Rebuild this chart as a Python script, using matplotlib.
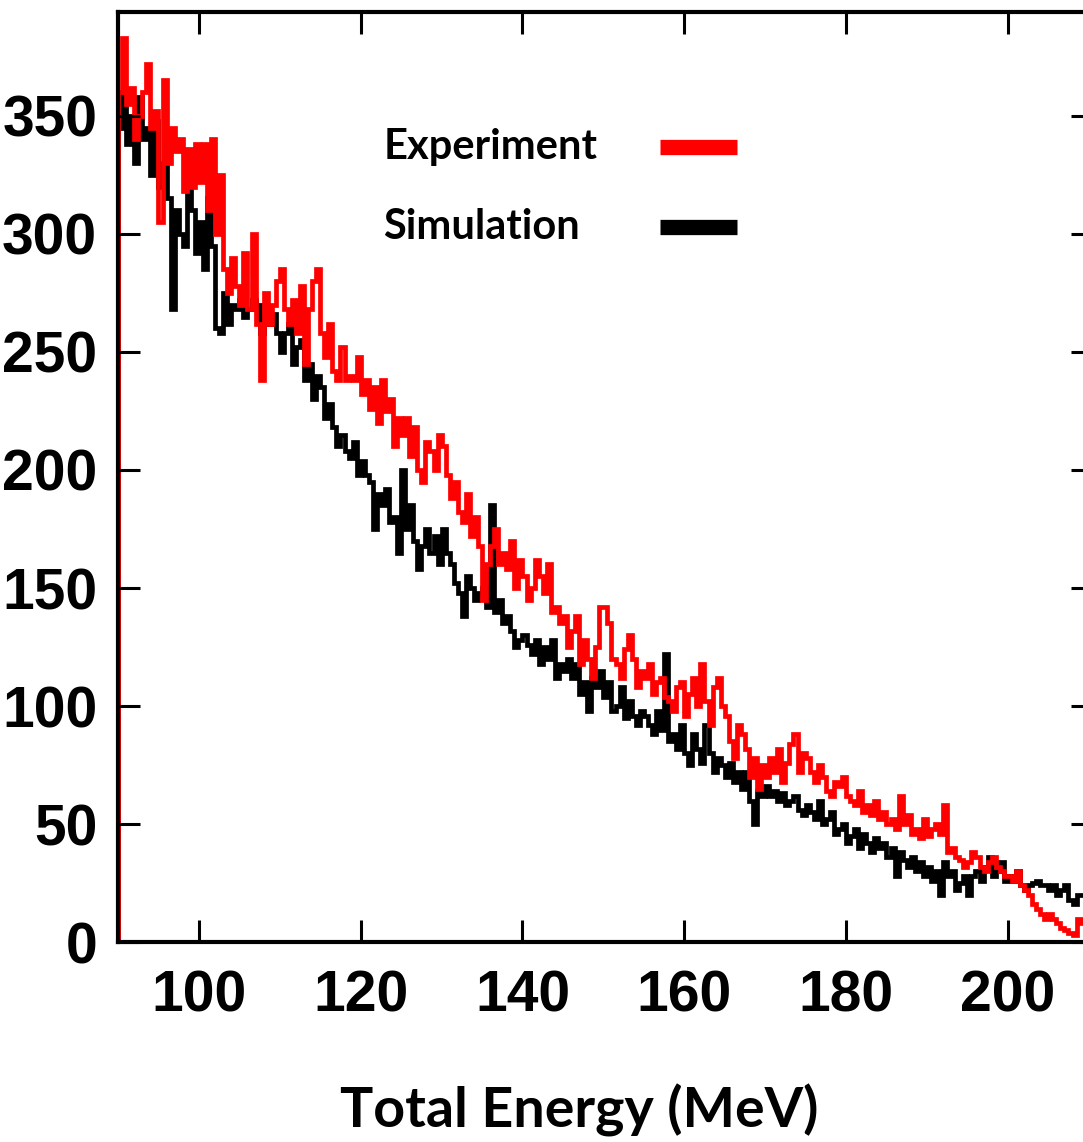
import numpy as np
import matplotlib
matplotlib.use("Agg")
from matplotlib import pyplot as plt

# energy bins, 0.5 MeV wide, 90 -> 210.5 MeV
bin_width = 0.5
e_start = 90.0

# Experiment (red), counts per bin
experiment = [
    360, 383, 355, 362, 340, 350, 360, 372, 345, 352,
    305, 365, 330, 345, 335, 340, 318, 336, 320, 338,
    322, 338, 310, 340, 300, 325, 285, 275, 290, 278,
    270, 292, 268, 300, 262, 238, 275, 262, 270, 280,
    285, 268, 262, 272, 258, 278, 245, 268, 280, 285,
    258, 248, 262, 242, 238, 252, 238, 240, 238, 248,
    232, 238, 226, 235, 220, 238, 225, 230, 210, 222,
    215, 222, 206, 218, 200, 195, 212, 208, 200, 215,
    210, 198, 188, 195, 182, 178, 190, 172, 180, 168,
    145, 160, 168, 175, 160, 165, 158, 170, 150, 162,
    155, 145, 150, 162, 155, 148, 160, 140, 142, 135,
    138, 125, 132, 138, 118, 128, 120, 112, 125, 142,
    142, 135, 120, 118, 112, 124, 130, 120, 108, 115,
    112, 118, 105, 110, 112, 104, 102, 98, 108, 110,
    96, 105, 112, 100, 118, 102, 92, 108, 112, 100,
    96, 85, 78, 92, 88, 82, 70, 78, 65, 75,
    70, 78, 72, 82, 68, 76, 84, 88, 72, 80,
    78, 72, 68, 75, 70, 64, 62, 68, 66, 70,
    62, 60, 58, 64, 55, 58, 54, 60, 52, 55,
    50, 52, 48, 62, 50, 54, 46, 48, 44, 52,
    45, 48, 50, 46, 58, 38, 40, 36, 35, 32,
    34, 38, 36, 32, 30, 34, 36, 32, 30, 28,
    28, 26, 30, 24, 22, 20, 16, 14, 12, 10,
    12, 10, 8, 6, 5, 4, 3, 10, 8, 12, 10,
]

# Simulation (black), counts per bin
simulation = [
    345, 360, 338, 350, 330, 358, 340, 345, 325, 348,
    320, 330, 315, 268, 310, 300, 295, 322, 310, 292,
    305, 285, 315, 295, 260, 258, 275, 262, 270, 268,
    272, 265, 268, 272, 270, 258, 265, 262, 266, 258,
    250, 258, 262, 245, 252, 255, 238, 245, 230, 240,
    235, 222, 228, 218, 210, 215, 208, 205, 212, 198,
    204, 198, 195, 175, 190, 185, 192, 178, 180, 165,
    200, 175, 185, 170, 158, 168, 175, 165, 172, 160,
    175, 165, 160, 152, 148, 138, 155, 150, 145, 148,
    150, 142, 185, 140, 145, 135, 138, 132, 125, 128,
    130, 126, 122, 128, 118, 125, 120, 128, 112, 118,
    115, 120, 112, 118, 105, 110, 98, 112, 108, 115,
    104, 110, 98, 100, 108, 95, 102, 96, 92, 98,
    96, 92, 88, 98, 90, 122, 85, 88, 82, 92,
    80, 75, 88, 82, 76, 92, 80, 72, 78, 75,
    70, 76, 68, 72, 65, 72, 60, 50, 64, 62,
    66, 62, 64, 60, 63, 58, 60, 62, 56, 54,
    58, 55, 52, 60, 50, 52, 55, 46, 48, 50,
    42, 45, 48, 40, 46, 42, 38, 44, 40, 42,
    36, 40, 28, 38, 35, 32, 36, 30, 34, 28,
    32, 26, 30, 20, 34, 28, 30, 22, 25, 28,
    20, 28, 30, 26, 32, 36, 28, 30, 34, 26,
    28, 26, 30, 24, 22, 24, 25, 26, 24, 24,
    22, 24, 20, 22, 24, 18, 16, 20, 20, 22, 18,
]

x_ticks = [100, 120, 140, 160, 180, 200]
y_ticks = [0, 50, 100, 150, 200, 250, 300, 350]

num_font = ['Liberation Sans', 'DejaVu Sans']
txt_font = ['Lato', 'DejaVu Sans']

# one empty bin in front so the step starts from zero at 90 MeV
exp_vals = np.array([0] + experiment)
sim_vals = np.array([0] + simulation)
edges = e_start - bin_width + bin_width * np.arange(len(exp_vals) + 1)

fig = plt.figure(figsize=(10.83, 11.42), dpi=100)
ax = fig.add_axes([0.109, 0.175, 0.9, 0.8145])

ax.stairs(sim_vals, edges, baseline=None, color='black', linewidth=3.4)
ax.stairs(exp_vals, edges, baseline=None, color='#ff0000', linewidth=3.4)

ax.set_xlim(90, 210.5)
ax.set_ylim(0, 394)
ax.set_xticks(x_ticks)
ax.set_yticks(y_ticks)

for s in ax.spines.values():
    s.set_linewidth(3)
ax.tick_params(direction='in', length=16, width=2.2, top=True, right=True)
ax.tick_params(axis='x', pad=20)
ax.tick_params(axis='y', pad=15)
for lbl in ax.get_xticklabels() + ax.get_yticklabels():
    lbl.set_family(num_font)
    lbl.set_fontweight('bold')
    lbl.set_fontsize(41)

# legend drawn by hand, gnuplot style
ax.text(0.272, 0.855, 'Experiment', transform=ax.transAxes, family=txt_font,
        fontweight='bold', fontsize=30, va='center', ha='left')
ax.text(0.272, 0.769, 'Simulation', transform=ax.transAxes, family=txt_font,
        fontweight='bold', fontsize=30, va='center', ha='left')
ax.plot([0.556, 0.635], [0.855, 0.855], transform=ax.transAxes,
        color='#ff0000', linewidth=11, solid_capstyle='butt')
ax.plot([0.556, 0.635], [0.769, 0.769], transform=ax.transAxes,
        color='black', linewidth=11, solid_capstyle='butt')

fig.text(0.535, 0.028, 'Total Energy (MeV)', family=txt_font,
         fontweight='bold', fontsize=40, ha='center', va='center')

fig.savefig('out.png', dpi=100)
